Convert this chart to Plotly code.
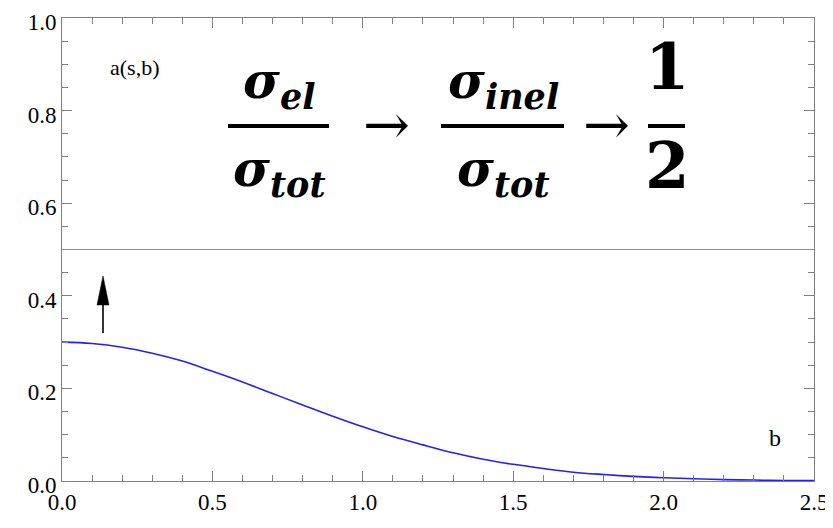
import plotly.graph_objects as go

# impact parameter b and amplitude a(s,b)
b_vals = [0.0, 0.1, 0.2, 0.3, 0.4, 0.5, 0.6, 0.7, 0.8, 0.9, 1.0, 1.1, 1.2,
          1.3, 1.4, 1.5, 1.6, 1.7, 1.8, 1.9, 2.0, 2.1, 2.2, 2.3, 2.4, 2.5]
a_vals = [0.300, 0.297, 0.289, 0.276, 0.259, 0.237, 0.214, 0.189, 0.164,
          0.140, 0.117, 0.096, 0.078, 0.061, 0.047, 0.036, 0.027, 0.019,
          0.014, 0.010, 0.007, 0.005, 0.003, 0.002, 0.001, 0.001]

black_disk = 0.5
x_ticks = [0.0, 0.5, 1.0, 1.5, 2.0, 2.5]
y_ticks = [0.0, 0.2, 0.4, 0.6, 0.8, 1.0]

serif = "Liberation Serif"
math = "DejaVu Serif"

fig = go.Figure()
fig.add_trace(go.Scatter(
    x=b_vals, y=a_vals, mode="lines", line=dict(color="#2020ff", width=1.6, shape="spline"),
    showlegend=False, hoverinfo="skip",
))

# unitarity limit line
fig.add_shape(type="line", xref="x", yref="y", x0=0, x1=2.5, y0=black_disk, y1=black_disk,
              line=dict(color="#909090", width=1))


# plot area in page pixels: x 62..814, y 18..481
def pix_y(py):
    return (481 - py) / 463


def pix_x(px):
    return (px - 62) / 752 * 2.5


# upward arrow (narrow head)
arrow_x = pix_x(103)
fig.add_shape(type="line", xref="x", yref="y", x0=arrow_x, x1=arrow_x,
              y0=pix_y(333), y1=pix_y(300), line=dict(color="black", width=1.6))
fig.add_shape(type="path", xref="x", yref="y", xsizemode="pixel", ysizemode="pixel",
              xanchor=arrow_x, yanchor=pix_y(276), path="M0,0 L-6,-29 L6,-29 Z",
              fillcolor="black", line=dict(color="black", width=0.5))

ann = []
ann.append(dict(x=pix_x(134), y=pix_y(67), text="a(s,b)", font=dict(family=serif, size=22, color="black")))
ann.append(dict(x=pix_x(775), y=pix_y(438), text="b", font=dict(family=serif, size=24, color="black")))

# formula sigma_el/sigma_tot -> sigma_inel/sigma_tot -> 1/2
big = dict(family=math, size=50, color="black")
arrow_font = dict(family=math, size=56, color="black")
digit_font = dict(family=math, size=64, color="black")
ann.append(dict(x=pix_x(279), y=pix_y(84), text="<b><i>σ<sub>el</sub></i></b>", font=big))
ann.append(dict(x=pix_x(279), y=pix_y(172), text="<b><i>σ<sub>tot</sub></i></b>", font=big))
ann.append(dict(x=pix_x(386), y=pix_y(124), text="→", font=arrow_font))
ann.append(dict(x=pix_x(503), y=pix_y(84), text="<b><i>σ<sub>inel</sub></i></b>", font=big))
ann.append(dict(x=pix_x(503), y=pix_y(172), text="<b><i>σ<sub>tot</sub></i></b>", font=big))
ann.append(dict(x=pix_x(606), y=pix_y(124), text="→", font=arrow_font))
ann.append(dict(x=pix_x(667), y=pix_y(66), text="<b>1</b>", font=digit_font))
ann.append(dict(x=pix_x(667), y=pix_y(165), text="<b>2</b>", font=digit_font))
for a in ann:
    a.setdefault("showarrow", False)
    a.setdefault("xref", "x")
    a.setdefault("yref", "y")
    fig.add_annotation(**a)

for x0, x1 in [(228, 329), (441, 564), (648, 685)]:
    fig.add_shape(type="line", xref="x", yref="y", x0=pix_x(x0), x1=pix_x(x1),
                  y0=pix_y(126), y1=pix_y(126), line=dict(color="black", width=4))

axis_common = dict(
    showline=True, linecolor="#808080", linewidth=1, mirror="allticks",
    ticks="inside", ticklen=10, tickcolor="#808080", showgrid=False, zeroline=False,
    automargin=False, ticklabeloverflow="allow",
    tickfont=dict(family=serif, size=23, color="black"),
)
fig.update_xaxes(range=[0, 2.5], tickvals=x_ticks, ticktext=[f"{v:.1f}" for v in x_ticks],
                 minor=dict(dtick=0.1, ticks="inside", ticklen=6, tickcolor="#808080"),
                 **axis_common)
fig.update_yaxes(range=[0, 1.0], tickvals=y_ticks, ticktext=[f"{v:.1f}" for v in y_ticks],
                 minor=dict(dtick=0.05, ticks="inside", ticklen=6, tickcolor="#808080"),
                 ticklabelshift=4, **axis_common)

# the page puts the figure 8px in from the top-left corner
fig.update_layout(
    width=825, height=520,
    margin=dict(l=54, r=19, t=10, b=47),
    paper_bgcolor="white", plot_bgcolor="white",
)
fig.write_html("out.html")
